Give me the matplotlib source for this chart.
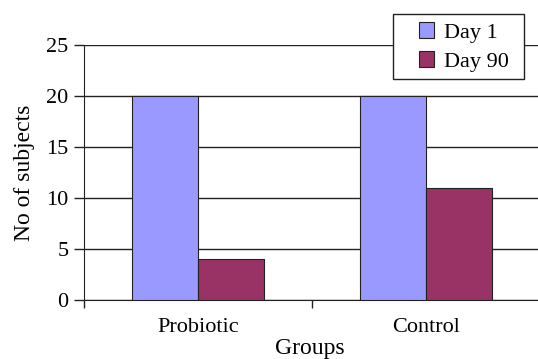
import numpy as np
import matplotlib.pyplot as plt
from matplotlib.patches import Rectangle

groups = ["Probiotic", "Control"]
day1 = [20, 20]
day90 = [4, 11]
series = ["Day 1", "Day 90"]
yticks = [0, 5, 10, 15, 20, 25]

plt.rcParams['font.family'] = ['Liberation Serif', 'DejaVu Serif']

fig = plt.figure(figsize=(5.38, 3.59), dpi=100)
ax = fig.add_axes([0.156, 0.164, 0.848, 0.712])

x = np.arange(len(groups))
w = 0.29
ax.bar(x - w/2, day1, w, color="#9999ff", edgecolor="#222222", linewidth=0.8, label=series[0], zorder=3)
ax.bar(x + w/2, day90, w, color="#993366", edgecolor="#222222", linewidth=0.8, label=series[1], zorder=3)

ax.set_xlim(-0.5, 1.5)
ax.set_ylim(0, 25)
ax.set_yticks(yticks)
ax.yaxis.grid(True, color="#222222", linewidth=1.0, zorder=0)
ax.set_axisbelow(True)

# category boundary ticks, labels at centres
ax.set_xticks([-0.5, 0.5, 1.5])
ax.set_xticklabels([])
ax.set_xticks(x, minor=True)
ax.set_xticklabels(groups, minor=True, fontsize=16)
ax.tick_params(axis='x', which='minor', length=0, pad=13)
ax.tick_params(axis='x', which='major', length=6, width=1, color="#222222")
ax.tick_params(axis='y', length=7, width=1, color="#222222", labelsize=16, pad=4)

for s in ["top", "right"]:
    ax.spines[s].set_visible(False)
ax.spines["left"].set_color("#222222")
ax.spines["bottom"].set_color("#222222")

ax.set_ylabel("No of subjects", fontsize=17, labelpad=8)
fig.text(0.576, 0.0, "Groups", fontsize=17, ha="center", va="bottom")

# legend box like the Excel one
fig.patches.append(Rectangle((0.730, 0.780), 0.244, 0.181, transform=fig.transFigure,
                             facecolor="white", edgecolor="#222222", linewidth=1.0, zorder=5))
leg = fig.legend(loc="center", bbox_to_anchor=(0.862, 0.869), fontsize=16, frameon=False,
                 handlelength=0.7, handleheight=0.7, handletextpad=0.45,
                 borderpad=0, labelspacing=0.4, borderaxespad=0)
leg.set_zorder(6)

fig.savefig("out.png", dpi=100)
